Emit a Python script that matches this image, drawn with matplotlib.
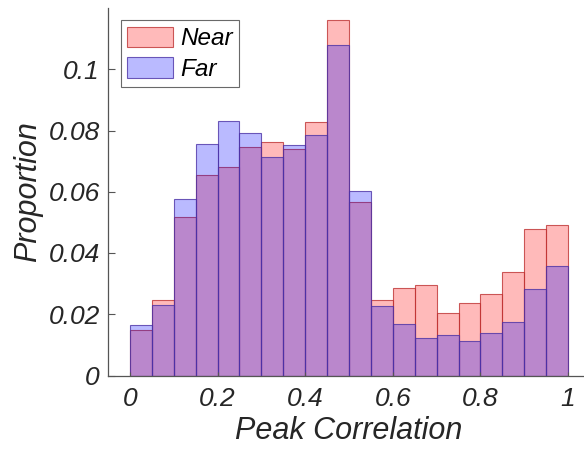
import matplotlib
matplotlib.use("Agg")
import matplotlib.pyplot as plt
import numpy as np

plt.rcParams['font.family'] = ['Liberation Sans', 'DejaVu Sans']

bin_edges = [round(0.05 * i, 2) for i in range(21)]
near = [0.0149, 0.0247, 0.0519, 0.0655, 0.0680, 0.0747, 0.0764, 0.0739, 0.0827, 0.1160,
        0.0568, 0.0248, 0.0287, 0.0295, 0.0203, 0.0236, 0.0266, 0.0338, 0.0478, 0.0492]
far = [0.0165, 0.0230, 0.0576, 0.0756, 0.0830, 0.0792, 0.0713, 0.0754, 0.0784, 0.1079,
       0.0601, 0.0228, 0.0168, 0.0123, 0.0131, 0.0112, 0.0140, 0.0174, 0.0284, 0.0356]
xticks = [0, 0.2, 0.4, 0.6, 0.8, 1]
xticklabels = ['0', '0.2', '0.4', '0.6', '0.8', '1']
yticks = [0, 0.02, 0.04, 0.06, 0.08, 0.1]
yticklabels = ['0', '0.02', '0.04', '0.06', '0.08', '0.1']

W, H = 584, 455
fig = plt.figure(figsize=(W / 100, H / 100), dpi=100)
ax = fig.add_axes([108 / W, 79.5 / H, (590 - 108) / W, 367.5 / H])

centers = [(bin_edges[i] + bin_edges[i + 1]) / 2 for i in range(20)]
width = 0.05
ax.bar(centers, near, width=width, facecolor=(1, 0, 0, 0.27),
       edgecolor=(0.75, 0.2, 0.2, 0.8), linewidth=0.8, label='Near')
ax.bar(centers, far, width=width, facecolor=(0, 0, 1, 0.27),
       edgecolor=(0.3, 0.2, 0.65, 0.8), linewidth=0.8, label='Far')

ax.set_xlim(-0.05, 1.05)
ax.set_ylim(0, 0.12)
ax.set_xticks(xticks)
ax.set_xticklabels(xticklabels, fontsize=19, style='italic', color='#262626')
ax.set_yticks(yticks)
ax.set_yticklabels(yticklabels, fontsize=19, style='italic', color='#262626')
ax.tick_params(direction='in', length=5, width=0.8, colors='#555555', labelcolor='#262626')
ax.tick_params(axis='x', pad=8, length=3)
ax.tick_params(axis='y', pad=6)
for s in ['top', 'right']:
    ax.spines[s].set_visible(False)
for s in ['left', 'bottom']:
    ax.spines[s].set_color('#555555')
    ax.spines[s].set_linewidth(0.9)

ax.set_xlabel('Peak Correlation', fontsize=22, style='italic', color='#262626', labelpad=4)
ax.set_ylabel('Proportion', fontsize=22, style='italic', color='#262626', labelpad=4)

leg = ax.legend(loc='upper left', bbox_to_anchor=(0.026, 0.966),
                prop={'style': 'italic', 'size': 17.5}, frameon=True, fancybox=False,
                edgecolor='#444444', handlelength=1.9, handleheight=0.9,
                handletextpad=0.3, borderpad=0.25, labelspacing=0.3, borderaxespad=0)
leg.get_frame().set_linewidth(0.8)

fig.savefig('out.png', dpi=100)
